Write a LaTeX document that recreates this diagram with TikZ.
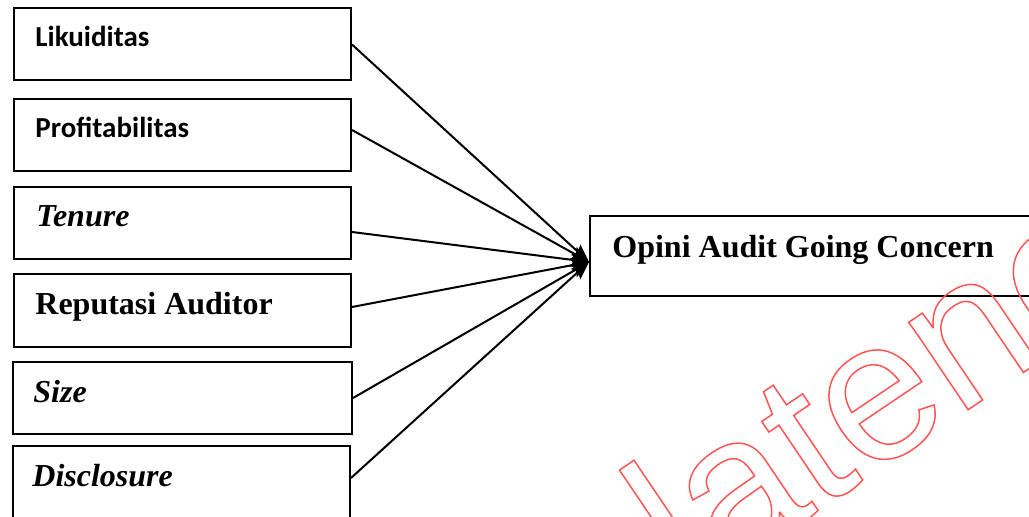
\documentclass[tikz,border=0pt]{standalone}
\usepackage{fontspec}
\setmainfont{Liberation Serif}
\newfontfamily\calibrifont{Carlito}
\newfontfamily\wmfont{Liberation Sans}
\usetikzlibrary{arrows.meta}
\definecolor{wmred}{RGB}{255,85,85}
\begin{document}
\begin{tikzpicture}[x=0.5pt,y=-0.5pt,
  box/.style={draw, line width=1pt, inner sep=0pt, minimum width=168.5pt, minimum height=36pt},
  lbl/.style={anchor=base west, inner sep=0pt},
  sanslbl/.style={lbl, font=\calibrifont\bfseries\fontsize{14.5}{17}\selectfont},
  seriflbl/.style={lbl, font=\bfseries\fontsize{16}{19}\selectfont},
  italbl/.style={lbl, font=\bfseries\itshape\fontsize{16}{19}\selectfont},
  arr/.style={line width=1pt, -{Stealth[length=9pt,width=7pt,inset=1.5pt]}}]
\path[use as bounding box] (0,0) rectangle (1029,517);
\clip (0,0) rectangle (1029,517);
% boxes
\node[box] (lik)  at (182.5,44.5) {};
\node[box] (prof) at (182.5,135) {};
\node[box] (ten)  at (182.5,223) {};
\node[box, minimum height=36.5pt] (rep)  at (182.5,310.5) {};
\node[box, minimum width=169.5pt] (size) at (182.5,398) {};
\node[box] (disc) at (181.5,482) {};
\node[box, minimum width=227.5pt, minimum height=40pt] (op) at (817.5,256) {};
% labels
\node[sanslbl] (tlik)  at (35,46.7) {Likuiditas};
\node[sanslbl] (tprof) at (35,138) {Profitabilitas};
\node[italbl]  (tten)  at (36,227) {Tenure};
\node[seriflbl] (trep) at (35,315) {Reputasi Auditor};
\node[italbl]  (tsize) at (33,403) {Size};
\node[italbl]  (tdisc) at (32,487) {Disclosure};
\node[seriflbl] (top)  at (612,258) {Opini Audit Going Concern};
% connectors
\coordinate (tip) at ([yshift=-3pt]op.west);
\draw[arr] (lik.east) -- (tip);
\draw[arr] ([yshift=2.5pt]prof.east) -- (tip);
\draw[arr] ([yshift=-4.5pt]ten.east) -- (tip);
\draw[arr] ([yshift=1.75pt]rep.east) -- (tip);
\draw[arr] (size.east) -- (tip);
\draw[arr] ([yshift=2pt]disc.east) -- (tip);
% watermark
\node[rotate=34, anchor=base west, inner sep=0pt, text=wmred] (wm) at (689,598)
  {\wmfont\fontsize{100}{120}\selectfont\special{pdf:literal direct 1 Tr 0.75 w}latene\special{pdf:literal direct 0 Tr}};
\end{tikzpicture}
\end{document}
